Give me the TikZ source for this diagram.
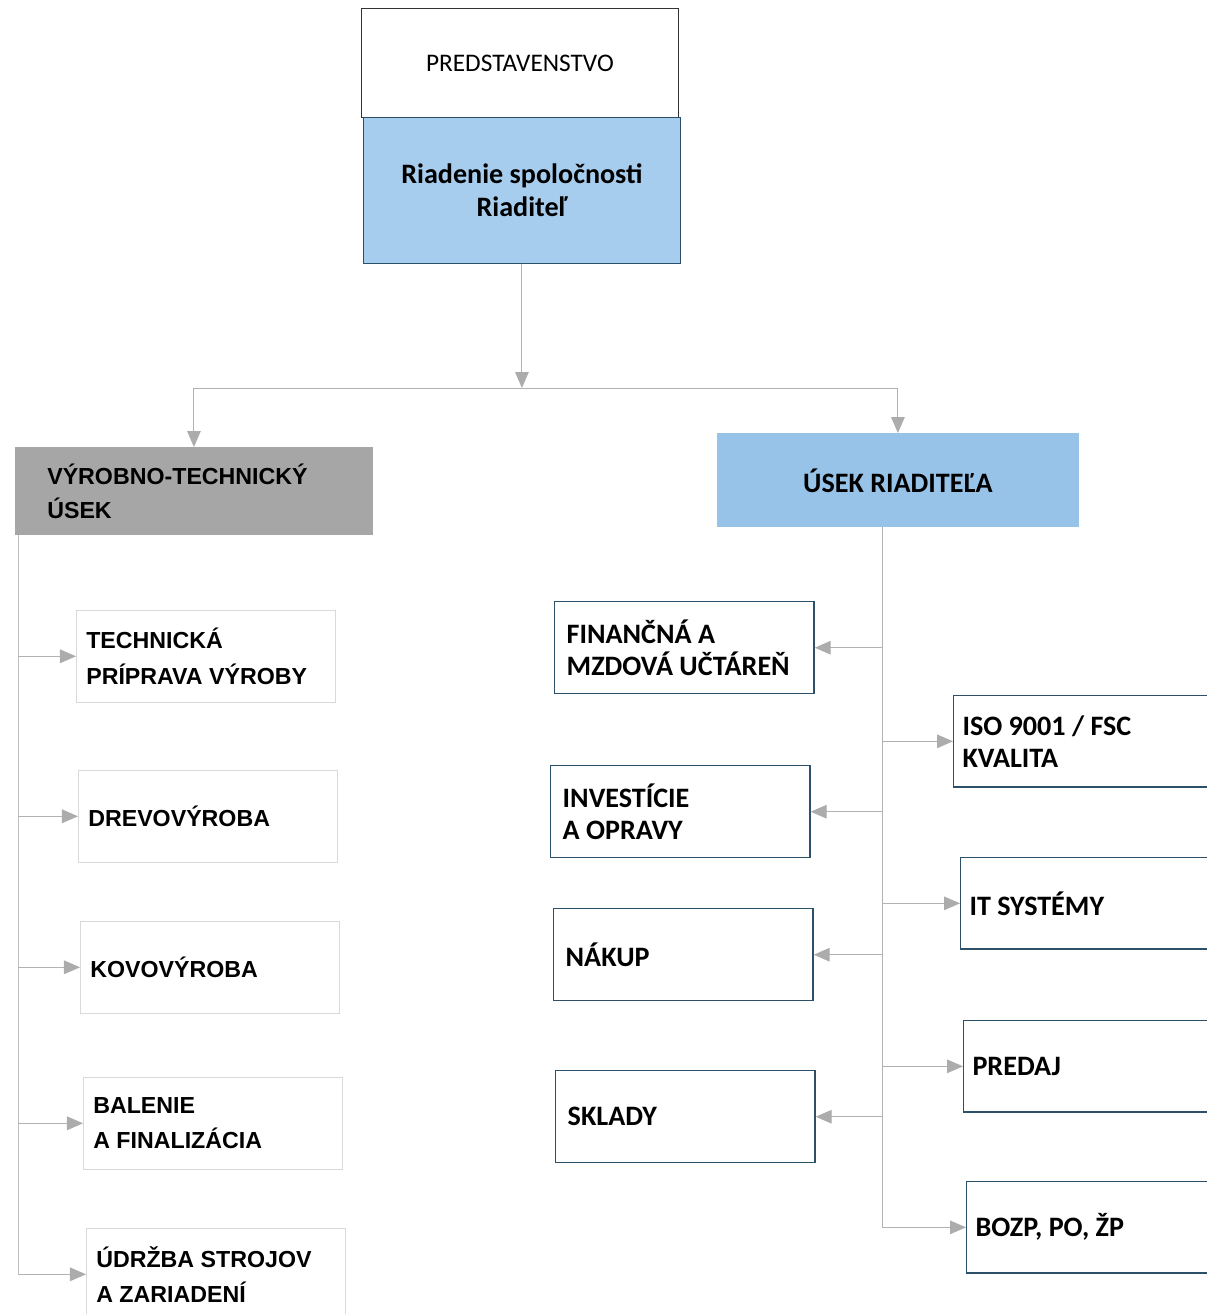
\documentclass[tikz,border=0pt]{standalone}
\usepackage{fontspec}
\setmainfont{Carlito}
\newfontfamily\arialfont{Liberation Sans}
\usetikzlibrary{arrows.meta}
\definecolor{riadblue}{RGB}{166,205,238}
\definecolor{usekblue}{RGB}{152,195,232}
\definecolor{vyrgray}{RGB}{166,166,166}
\definecolor{rbord}{RGB}{45,80,105}
\begin{document}
\begin{tikzpicture}[x=0.025cm, y=-0.025cm,
    box/.style={draw, anchor=north west, inner ysep=0pt, font=\fontsize{20}{23}\selectfont\bfseries},
    leftbox/.style={box, draw=gray!30, text width=5.98cm, inner xsep=0.25cm, minimum height=2.3cm, align=flush left, font=\arialfont\fontsize{16.5}{25}\selectfont\bfseries},
    midbox/.style={box, draw=rbord, line width=1pt, text width=5.88cm, inner xsep=0.3cm, minimum height=2.3cm, align=flush left},
    rightbox/.style={box, draw=rbord, line width=1pt, text width=6.8cm, inner xsep=0.22cm, minimum height=2.28cm, align=flush left},
    conn/.style={draw=gray!60, line width=0.7pt, -{Triangle[length=0.4cm, width=0.34cm, color=gray!65]}}
  ]
  \useasboundingbox (0,0) rectangle (1207,1314);
  \clip (0,0) rectangle (1207,1314);

  % Board and management
  \node[box, draw=black!80, minimum width=7.93cm, minimum height=2.73cm, font=\fontsize{18}{22}\selectfont] (pred) at (361,8) {PREDSTAVENSTVO};
  \node[box, draw=rbord, fill=riadblue, minimum width=7.93cm, minimum height=3.65cm, align=center, font=\fontsize{20}{24}\selectfont\bfseries] (riad) at (363,117) {Riadenie spoločnosti\\Riaditeľ};

  % Two divisions
  \node[box, draw=none, fill=vyrgray, text width=7.33cm, inner xsep=0.8cm, minimum height=2.2cm, align=flush left, font=\arialfont\fontsize{16.5}{24}\selectfont\bfseries] (vyr) at (15,447) {VÝROBNO-TECHNICKÝ\\ÚSEK};
  \node[box, draw=none, fill=usekblue, minimum width=9.03cm, minimum height=2.35cm] (usek) at (717,433) {ÚSEK RIADITEĽA};

  \coordinate (hub) at (riad.south |- 0,388);
  \draw[conn] (riad.south) -- (hub);
  \draw[conn] (hub) -| (vyr.north);
  \draw[conn] (hub) -| (usek.north);

  % Production departments
  \node[leftbox] (tpv) at (76,610) {TECHNICKÁ\\PRÍPRAVA VÝROBY};
  \node[leftbox] (drevo) at (78,770) {DREVOVÝROBA};
  \node[leftbox] (kovo) at (80,921) {KOVOVÝROBA};
  \node[leftbox] (bal) at (83,1077) {BALENIE\\A FINALIZÁCIA};
  \node[leftbox] (udr) at (86,1228) {ÚDRŽBA STROJOV\\A ZARIADENÍ};

  \coordinate (lt) at (18,535);
  \draw[draw=gray!50, line width=0.6pt] (lt) -- (lt |- udr.west);
  \draw[conn] (lt |- tpv.west) -- (tpv.west);
  \draw[conn] (lt |- drevo.west) -- (drevo.west);
  \draw[conn] (lt |- kovo.west) -- (kovo.west);
  \draw[conn] (lt |- bal.west) -- (bal.west);
  \draw[conn] (lt |- udr.west) -- (udr.west);

  % Director's departments, left column
  \node[midbox] (fin) at (554,601) {FINANČNÁ A\\MZDOVÁ UČTÁREŇ};
  \node[midbox] (inv) at (550,765) {INVESTÍCIE\\A OPRAVY};
  \node[midbox] (nak) at (553,908) {NÁKUP};
  \node[midbox] (skl) at (555,1070) {SKLADY};

  % Director's departments, right column
  \node[rightbox] (iso) at (953,695) {ISO 9001 / FSC\\KVALITA};
  \node[rightbox] (it) at (960,857) {IT SYSTÉMY};
  \node[rightbox] (pre) at (963,1020) {PREDAJ};
  \node[rightbox] (bozp) at (966,1181) {BOZP, PO, ŽP};

  \coordinate (rt) at (882,527);
  \draw[draw=gray!60, line width=0.7pt] (rt) -- (rt |- bozp.west);
  \draw[conn] (rt |- fin.east) -- (fin.east);
  \draw[conn] (rt |- inv.east) -- (inv.east);
  \draw[conn] (rt |- nak.east) -- (nak.east);
  \draw[conn] (rt |- skl.east) -- (skl.east);
  \draw[conn] (rt |- iso.west) -- (iso.west);
  \draw[conn] (rt |- it.west) -- (it.west);
  \draw[conn] (rt |- pre.west) -- (pre.west);
  \draw[conn] (rt |- bozp.west) -- (bozp.west);
\end{tikzpicture}
\end{document}
